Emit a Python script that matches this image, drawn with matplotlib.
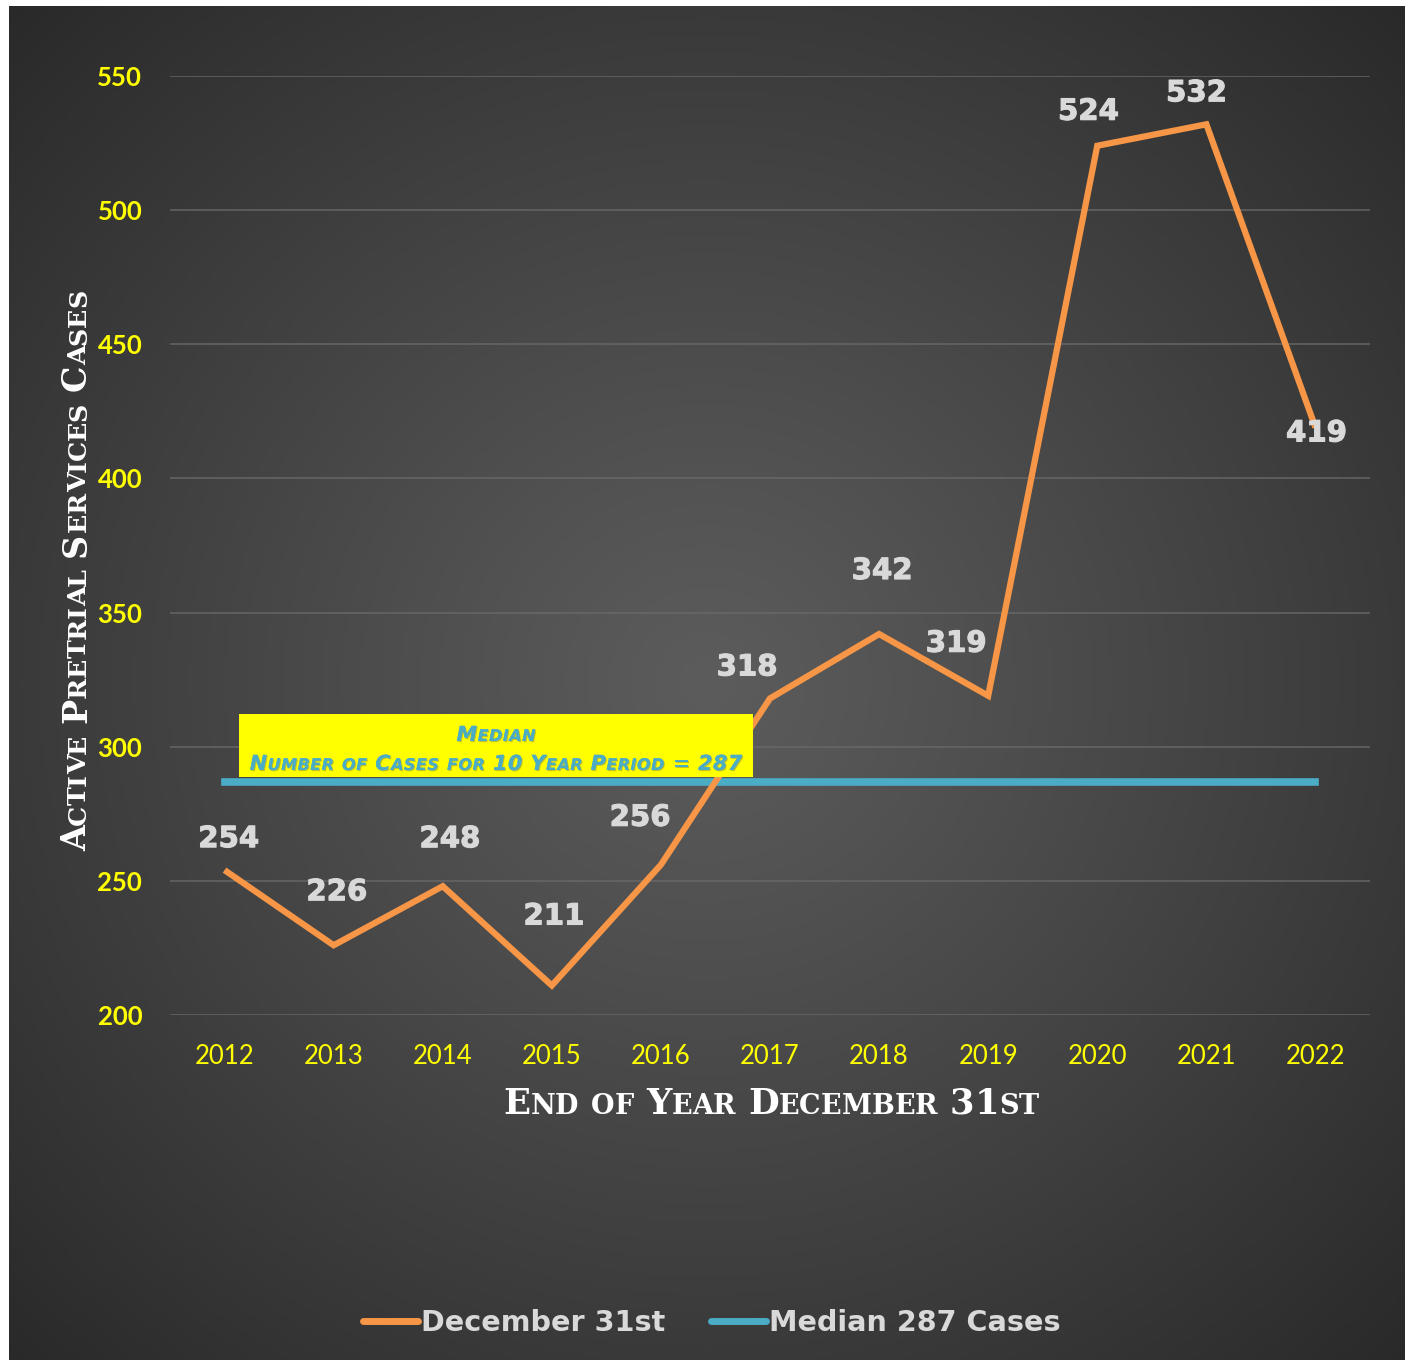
import numpy as np
import matplotlib
matplotlib.use("Agg")
import matplotlib.pyplot as plt
import matplotlib.patheffects as pe
from matplotlib.lines import Line2D

# ---------------- data ----------------
years = [2012, 2013, 2014, 2015, 2016, 2017, 2018, 2019, 2020, 2021, 2022]
cases = [254, 226, 248, 211, 256, 318, 342, 319, 524, 532, 419]
median_value = 287
yticks = [200, 250, 300, 350, 400, 450, 500, 550]
series_name = "December 31st"
median_name = "Median 287 Cases"
x_title = "End of Year December 31st"
y_title = "Active Pretrial Services Cases"
note_line1 = "Median"
note_line2 = "Number of Cases for 10 Year Period = 287"

# label offsets (pixels) from each point
label_dx = [4, 3, 7, 2, -21, -23, 3, -32, -9, -10, 1]
label_dy = [31, 53, 47, 69, 47, 31, 63, 52, 34, 31, -6]

W, H = 1413, 1363
DPI = 100
ORANGE = "#f79646"
BLUE = "#4bacc6"
YELLOW = "#ffff00"
LABEL = "#d9d9d9"

fig = plt.figure(figsize=(W / DPI, H / DPI), dpi=DPI, facecolor="white")

# ---------- background radial gradient ----------
bg = fig.add_axes([9 / W, 1 - 1360 / H, (1405 - 9) / W, (1360 - 6) / H], zorder=-10)
ny, nx = 400, 400
yy, xx = np.mgrid[0:1:ny * 1j, 0:1:nx * 1j]
cx, cy = 0.50, 0.50
r = np.sqrt(((xx - cx) / 0.75) ** 2 + ((yy - cy) / 0.75) ** 2)
r = np.clip(r, 0, 1)
c_in = np.array([0x5c, 0x5c, 0x5c]) / 255
c_out = np.array([0x26, 0x26, 0x26]) / 255
t = r[..., None] ** 1.1
img = c_in * (1 - t) + c_out * t
bg.imshow(img, extent=[0, 1, 0, 1], aspect="auto", origin="lower")
bg.set_axis_off()

# ---------- main axes ----------
L, R, T, B = 170, 1370, 76, 1015
ax = fig.add_axes([L / W, 1 - B / H, (R - L) / W, (B - T) / H])
ax.set_facecolor("none")
x = np.arange(len(years))
ax.set_xlim(-0.5, len(years) - 0.5)
ax.set_ylim(200, 550)
ax.set_yticks(yticks)
ax.set_yticklabels([str(v) for v in yticks], fontfamily="Lato", fontweight="bold",
                   fontsize=18.5, color=YELLOW)
ax.set_xticks(x)
ax.set_xticklabels([str(v) for v in years], fontfamily="Lato", fontsize=18.5, color=YELLOW)
ax.tick_params(axis="y", length=0, pad=20)
ax.tick_params(axis="x", length=0, pad=21)
for s in ax.spines.values():
    s.set_visible(False)
ax.grid(axis="y", color="#6a6a6a", linewidth=1.4, alpha=0.7)
ax.set_axisbelow(True)

ax.plot([x[0], x[-1]], [median_value, median_value], color=BLUE, lw=5.5,
        solid_capstyle="projecting", zorder=3)
ax.plot(x, cases, color=ORANGE, lw=4.5, solid_joinstyle="miter",
        solid_capstyle="butt", zorder=4)

for xi, v, dx, dy in zip(x, cases, label_dx, label_dy):
    ax.annotate(str(v), xy=(xi, v), xytext=(dx, dy), textcoords="offset pixels",
                ha="center", va="center", fontsize=21, fontweight="heavy",
                color=LABEL, fontfamily="DejaVu Sans", zorder=6,
                path_effects=[pe.withStroke(linewidth=0.8, foreground=LABEL)])

# ---------- yellow note box ----------
bx0, bx1, by0, by1 = 239, 753, 714, 777
fig.patches.append(plt.Rectangle((bx0 / W, 1 - by1 / H), (bx1 - bx0) / W, (by1 - by0) / H,
                                 transform=fig.transFigure, facecolor=YELLOW,
                                 edgecolor="none", zorder=5))

renderer = fig.canvas.get_renderer()


def char_width(ch, size, **kw):
    t1 = fig.text(0, 0, "|" + ch + "|", fontsize=size, **kw)
    t2 = fig.text(0, 0, "||", fontsize=size, **kw)
    w = t1.get_window_extent(renderer).width - t2.get_window_extent(renderer).width
    t1.remove(); t2.remove()
    return w


def smallcaps(s, cx_px, cy_px, big, small, rotation=0, tracking=0.0, **kw):
    items = []
    for ch in s:
        if ch.islower():
            items.append((ch.upper(), small))
        else:
            items.append((ch, big))
    widths = [char_width(c, sz, **kw) + tracking for c, sz in items]
    total = sum(widths) - tracking
    pos = -total / 2
    texts = []
    for (c, sz), w in zip(items, widths):
        if rotation == 0:
            px, py = cx_px + pos, cy_px
        else:
            px, py = cx_px, cy_px + pos
        tt = fig.text(px / W, 1 - py / H if rotation == 0 else py / H, c, fontsize=sz,
                      ha="left", va="baseline", rotation=rotation,
                      rotation_mode="anchor", **kw)
        texts.append(tt)
        pos += w
    return texts


# note text
shadow = [pe.withSimplePatchShadow(offset=(0.8, -0.8), shadow_rgbFace="#8a8a40", alpha=0.5),
          pe.Normal()]
for txt, base in [(note_line1, 741), (note_line2, 770)]:
    for tt in smallcaps(txt, 496, base, 15, 11.6, tracking=0.4, color=BLUE,
                        fontfamily="DejaVu Sans", fontweight="bold", fontstyle="italic",
                        zorder=7):
        tt.set_path_effects(shadow)

# axis titles
smallcaps(x_title, 771, 1114, 25.5, 19.5, color="white", fontfamily="DejaVu Serif",
          fontweight="bold")
smallcaps(y_title, 86, H - 570, 24, 18.3, rotation=90, color="white",
          fontfamily="DejaVu Serif", fontweight="bold")

# ---------- legend ----------
handles = [Line2D([], [], color=ORANGE, lw=5, solid_capstyle="round"),
           Line2D([], [], color=BLUE, lw=5, solid_capstyle="round")]
leg = fig.legend(handles, [series_name, median_name], loc="center",
                 bbox_to_anchor=(712 / W, 1 - 1323 / H), ncol=2, frameon=False,
                 handlelength=1.9, handletextpad=0.12, columnspacing=1.6,
                 prop={"family": "DejaVu Sans", "weight": "bold", "size": 20.6})
for t_ in leg.get_texts():
    t_.set_color(LABEL)

fig.savefig("out.png", dpi=DPI, facecolor="white")
